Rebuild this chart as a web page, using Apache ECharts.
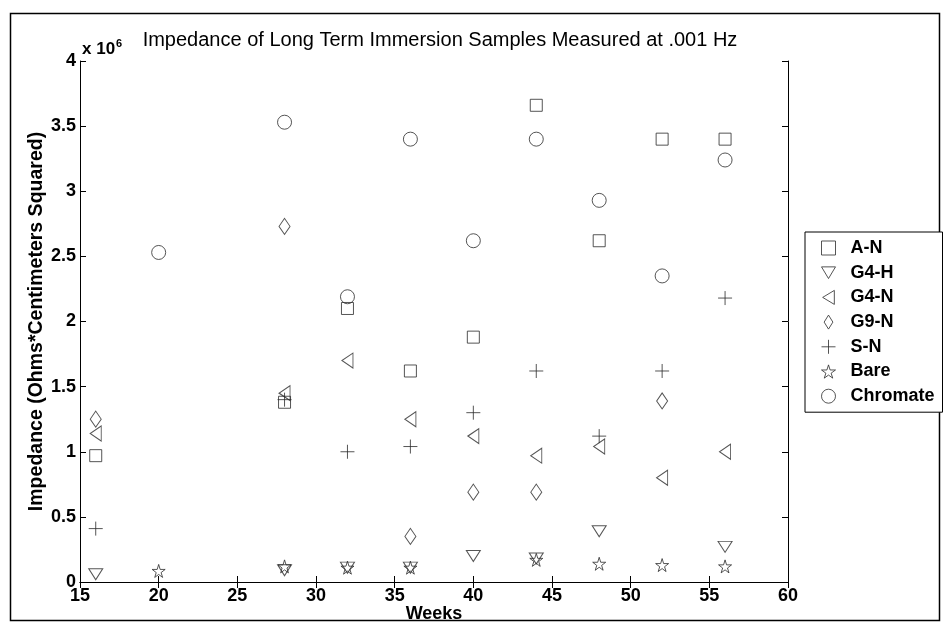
<!DOCTYPE html>
<html>
<head>
<meta charset="utf-8">
<script src="https://cdn.jsdelivr.net/npm/echarts@6/dist/echarts.min.js"></script>
<style>html,body{margin:0;padding:0;background:#fff}#c{width:948px;height:634px}</style>
</head>
<body>
<div id="c"></div>
<script>
const weeks = [16, 20, 28, 32, 36, 40, 44, 48, 52, 56];
const seriesNames = ['A-N', 'G4-H', 'G4-N', 'G9-N', 'S-N', 'Bare', 'Chromate'];
const aN      = [0.97e6, null, 1.38e6, 2.10e6, 1.62e6, 1.88e6, 3.66e6, 2.62e6, 3.40e6, 3.40e6];
const g4H     = [0.06e6, null, 0.09e6, 0.11e6, 0.11e6, 0.20e6, 0.18e6, 0.39e6, null, 0.27e6];
const g4N     = [1.14e6, null, 1.45e6, 1.70e6, 1.25e6, 1.12e6, 0.97e6, 1.04e6, 0.80e6, 1.00e6];
const g9N     = [1.25e6, null, 2.73e6, null, 0.35e6, 0.69e6, 0.69e6, null, 1.39e6, null];
const sN      = [0.41e6, null, 1.40e6, 1.00e6, 1.04e6, 1.30e6, 1.62e6, 1.12e6, 1.62e6, 2.18e6];
const bare    = [null, 0.085e6, 0.12e6, 0.11e6, 0.11e6, null, 0.17e6, 0.14e6, 0.13e6, 0.12e6];
const chromate= [null, 2.53e6, 3.53e6, 2.19e6, 3.40e6, 2.62e6, 3.40e6, 2.93e6, 2.35e6, 3.24e6];
const xTicks = [15, 20, 25, 30, 35, 40, 45, 50, 55, 60];
const yTicks = [0, 0.5e6, 1e6, 1.5e6, 2e6, 2.5e6, 3e6, 3.5e6, 4e6];

const valuesList = [aN, g4H, g4N, g9N, sN, bare, chromate];
const symbols = [
  'rect',
  'path://M0,0L12,0L6,10Z',
  'path://M10,0L10,12L0,6Z',
  'path://M5,0L10,8L5,16L0,8Z',
  'path://M0,7L14,7M7,0L7,14',
  'path://M50,0L61,35L98,35L68,57L79,91L50,70L21,91L32,57L2,35L39,35Z',
  'circle'
];
const sizes = [[12,12],[14,11],[11,15],[11,16],[14,14],[13,13],[14,14]];

const series = seriesNames.map((n, i) => ({
  name: n,
  type: 'scatter',
  symbol: symbols[i],
  symbolSize: sizes[i],
  itemStyle: {color: 'rgba(0,0,0,0)', borderColor: '#2a2a2a', borderWidth: 1},
  data: weeks.map((w, k) => valuesList[i][k] == null ? null : [w, valuesList[i][k]]).filter(d => d),
  xAxisIndex: 0, yAxisIndex: 0
}));

const font = 'Arial, "Liberation Sans", sans-serif';
const chart = echarts.init(document.getElementById('c'), null, {renderer: 'canvas'});
chart.setOption({
  animation: false,
  backgroundColor: '#fff',
  grid: {left: 80, top: 61, right: 160, bottom: 52, containLabel: false},
  xAxis: [
    {type: 'value', min: 15, max: 60, interval: 5, position: 'bottom',
     name: 'Weeks', nameLocation: 'middle', nameGap: 23, nameMoveOverlap: false,
     nameTextStyle: {fontFamily: font, fontWeight: 'bold', fontSize: 18, color: '#000'},
     axisLine: {lineStyle: {color: '#000', width: 1}},
     axisTick: {inside: true, length: 6, lineStyle: {color: '#000'}},
     axisLabel: {fontFamily: font, fontWeight: 'bold', fontSize: 18, color: '#000', margin: 5,
       formatter: v => xTicks.includes(v) ? String(v) : ''},
     splitLine: {show: false}},
    {type: 'value', min: 15, max: 60, interval: 5, position: 'top',
     axisLine: {lineStyle: {color: '#000', width: 1}},
     axisTick: {inside: true, length: 6, lineStyle: {color: '#000'}},
     axisLabel: {show: false}, splitLine: {show: false}}
  ],
  yAxis: [
    {type: 'value', min: 0, max: 4e6, interval: 0.5e6, position: 'left',
     name: 'Impedance (Ohms*Centimeters Squared)', nameLocation: 'middle', nameGap: 33, nameMoveOverlap: false,
     nameTextStyle: {fontFamily: font, fontWeight: 'bold', fontSize: 19.5, color: '#000'},
     axisLine: {lineStyle: {color: '#000', width: 1}},
     axisTick: {inside: true, length: 6, lineStyle: {color: '#000'}},
     axisLabel: {fontFamily: font, fontWeight: 'bold', fontSize: 18, color: '#000', margin: 4,
       formatter: v => yTicks.includes(v) ? String(v / 1e6) : ''},
     splitLine: {show: false}},
    {type: 'value', min: 0, max: 4e6, interval: 0.5e6, position: 'right',
     axisLine: {lineStyle: {color: '#000', width: 1}},
     axisTick: {inside: true, length: 6, lineStyle: {color: '#000'}},
     axisLabel: {show: false}, splitLine: {show: false}}
  ],
  legend: {
    orient: 'vertical', left: 805, top: 232,
    padding: [7, 8, 7, 16],
    itemGap: 6.7,
    itemWidth: 14, itemHeight: 14,
    borderColor: '#000', borderWidth: 1, backgroundColor: '#fff',
    textStyle: {fontFamily: font, fontWeight: 'bold', fontSize: 18, lineHeight: 18, color: '#000', padding: [0, 0, 0, 10]},
    data: seriesNames.map((n, i) => ({name: n, icon: symbols[i],
      itemStyle: {color: 'rgba(0,0,0,0)', borderColor: '#2a2a2a', borderWidth: 1}}))
  },
  graphic: [
    {type: 'rect', shape: {x: 10.5, y: 13.5, width: 929, height: 607},
     style: {fill: 'none', stroke: '#000', lineWidth: 1.5}, silent: true, z: -1},
    {type: 'text', x: 440, y: 40,
     style: {text: 'Impedance of Long Term Immersion Samples Measured at .001 Hz',
       font: '20px Arial, "Liberation Sans", sans-serif', fill: '#000', align: 'center', verticalAlign: 'middle'}},
    {type: 'text', x: 82, y: 49,
     style: {text: '{b|x 10}{s|6}', verticalAlign: 'middle', align: 'left',
       rich: {b: {font: 'bold 17px Arial, "Liberation Sans", sans-serif', fill: '#000'},
              s: {font: 'bold 11px Arial, "Liberation Sans", sans-serif', fill: '#000', verticalAlign: 'top', padding: [0,0,10,1]}}}}
  ],
  series: series
});
</script>
</body>
</html>
